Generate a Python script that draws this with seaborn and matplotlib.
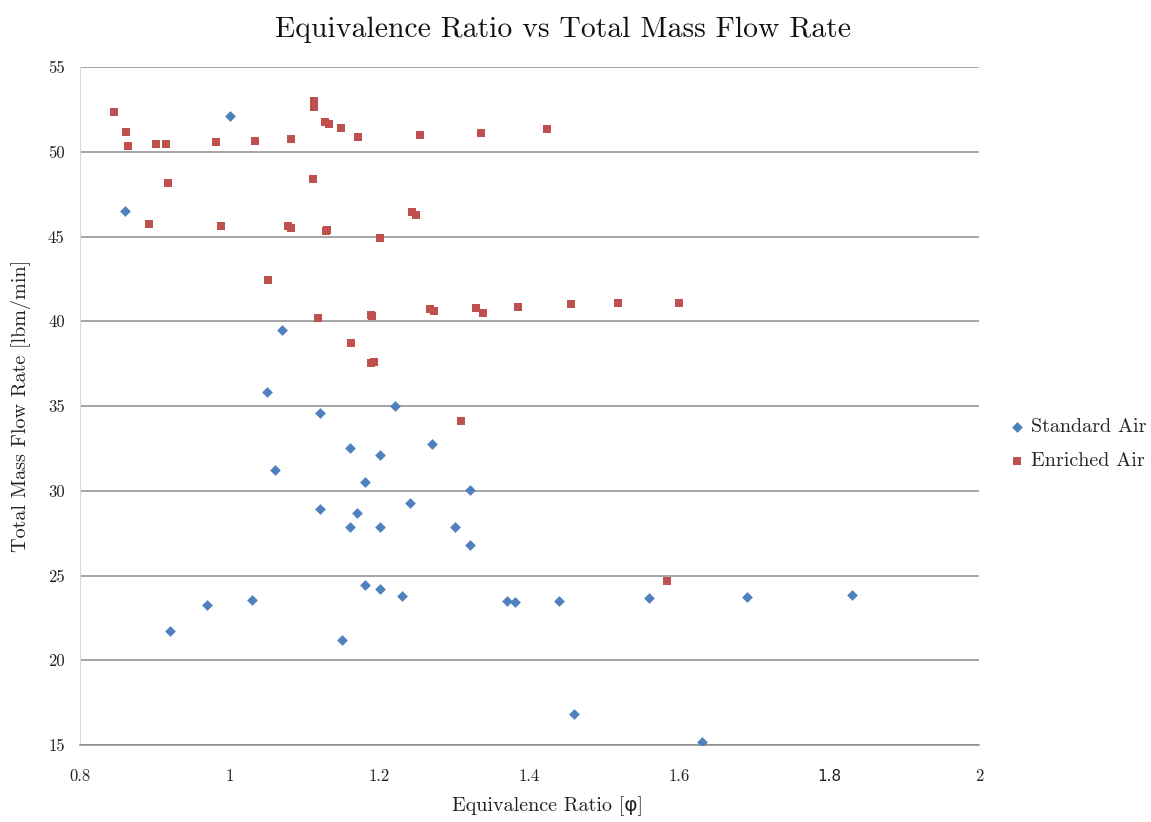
import matplotlib
matplotlib.use("Agg")
import matplotlib.pyplot as plt
import seaborn as sns
import pandas as pd
from matplotlib.ticker import FuncFormatter, MultipleLocator

# ---- data ----
std_phi = [0.86, 1.00, 1.07, 1.05, 1.12, 1.22, 1.16, 1.20, 1.27, 1.06, 1.18, 1.32,
           1.12, 1.17, 1.24, 1.16, 1.20, 1.30, 1.32, 1.18, 1.20, 1.23, 1.03, 0.97,
           0.92, 1.15, 1.37, 1.38, 1.44, 1.56, 1.69, 1.83, 1.46, 1.63]
std_flow = [46.5, 52.1, 39.5, 35.8, 34.6, 35.0, 32.5, 32.1, 32.75, 31.2, 30.5, 30.05,
            28.95, 28.7, 29.28, 27.88, 27.88, 27.88, 26.82, 24.42, 24.2, 23.82, 23.55, 23.28,
            21.74, 21.19, 23.48, 23.44, 23.5, 23.65, 23.74, 23.85, 16.85, 15.2]

enr_phi = [0.846, 0.861, 0.864, 0.902, 0.915, 0.981, 1.034, 1.082, 1.112, 1.113,
           1.127, 1.133, 1.149, 1.171, 1.254, 1.335, 1.424, 0.917, 1.111, 0.892,
           0.988, 1.077, 1.082, 1.128, 1.130, 1.200, 1.243, 1.249, 1.051, 1.118,
           1.188, 1.190, 1.162, 1.188, 1.192, 1.267, 1.273, 1.328, 1.338, 1.384,
           1.456, 1.518, 1.600, 1.309, 1.584]
enr_flow = [52.33, 51.18, 50.36, 50.44, 50.44, 50.6, 50.65, 50.75, 53.01, 52.64,
            51.74, 51.65, 51.42, 50.89, 50.97, 51.13, 51.34, 48.17, 48.39, 45.75,
            45.6, 45.62, 45.52, 45.34, 45.38, 44.93, 46.45, 46.29, 42.43, 40.17,
            40.39, 40.33, 38.73, 37.54, 37.6, 40.7, 40.62, 40.78, 40.47, 40.86,
            41.0, 41.08, 41.08, 34.13, 24.68]

series_names = ["Standard Air", "Enriched Air"]
title = "Equivalence Ratio vs Total Mass Flow Rate"
xlabel = "Equivalence Ratio [\u03c6]"
ylabel = "Total Mass Flow Rate [lbm/min]"

sns.set_style("white")
plt.rcParams['font.family'] = ['cmr10', 'DejaVu Sans']
plt.rcParams['axes.unicode_minus'] = False

fig = plt.figure(figsize=(11.51, 8.22), dpi=100)
ax = fig.add_axes([80/1151, 1-745/822, (979-80)/1151, (745-67)/822])

df_std = pd.DataFrame({"phi": std_phi, "flow": std_flow})
df_enr = pd.DataFrame({"phi": enr_phi, "flow": enr_flow})

sns.scatterplot(data=df_std, x="phi", y="flow", ax=ax, marker="D", s=30,
                color="#4F81BD", linewidth=0, label=series_names[0], zorder=3)
sns.scatterplot(data=df_enr, x="phi", y="flow", ax=ax, marker="s", s=26,
                color="#C0504D", linewidth=0, label=series_names[1], zorder=3)

ax.set_xlim(0.8, 2.0)
ax.set_ylim(15, 55)
ax.xaxis.set_major_locator(MultipleLocator(0.2))
ax.yaxis.set_major_locator(MultipleLocator(5))
fmt = FuncFormatter(lambda v, p: f"{round(v, 2):g}")
ax.xaxis.set_major_formatter(fmt)
ax.yaxis.set_major_formatter(fmt)

ax.grid(axis="y", color="#8c8c8c", linewidth=1.1)
ax.grid(axis="x", visible=False)
for side in ["top", "right"]:
    ax.spines[side].set_visible(False)
ax.spines["left"].set_color("#d9d9d9")
ax.spines["bottom"].set_color("#8c8c8c")
ax.spines["bottom"].set_linewidth(1.1)
ax.tick_params(axis="both", which="major", direction="out", length=5, width=1,
               color="#8c8c8c", labelsize=12, labelcolor="#222222")
ax.tick_params(axis="x", pad=12)
ax.tick_params(axis="y", pad=6)

for lbl in ax.get_xticklabels():
    if lbl.get_text() == "1.8":
        lbl.set_family("DejaVu Sans")
        lbl.set_fontsize(11)

ax.set_xlabel(xlabel, fontsize=14.5, color="#222222")
ax.set_ylabel(ylabel, fontsize=14.5, color="#222222")
ax.xaxis.set_label_coords(0.52, -0.076)
ax.yaxis.set_label_coords(-0.054, 0.5)

fig.text(563/1151, 1-30/822, title, ha="center", va="center", fontsize=21.4, color="#111111")

ax.get_legend().remove()
handles, labels = ax.get_legend_handles_labels()
fig.legend(handles, labels, loc="center left", bbox_to_anchor=(987/1151, 1-444/822),
           frameon=False, fontsize=14.5, labelspacing=0.8, handletextpad=0.1,
           handlelength=1.2, markerscale=1.0)

fig.savefig("out.png", dpi=100)
